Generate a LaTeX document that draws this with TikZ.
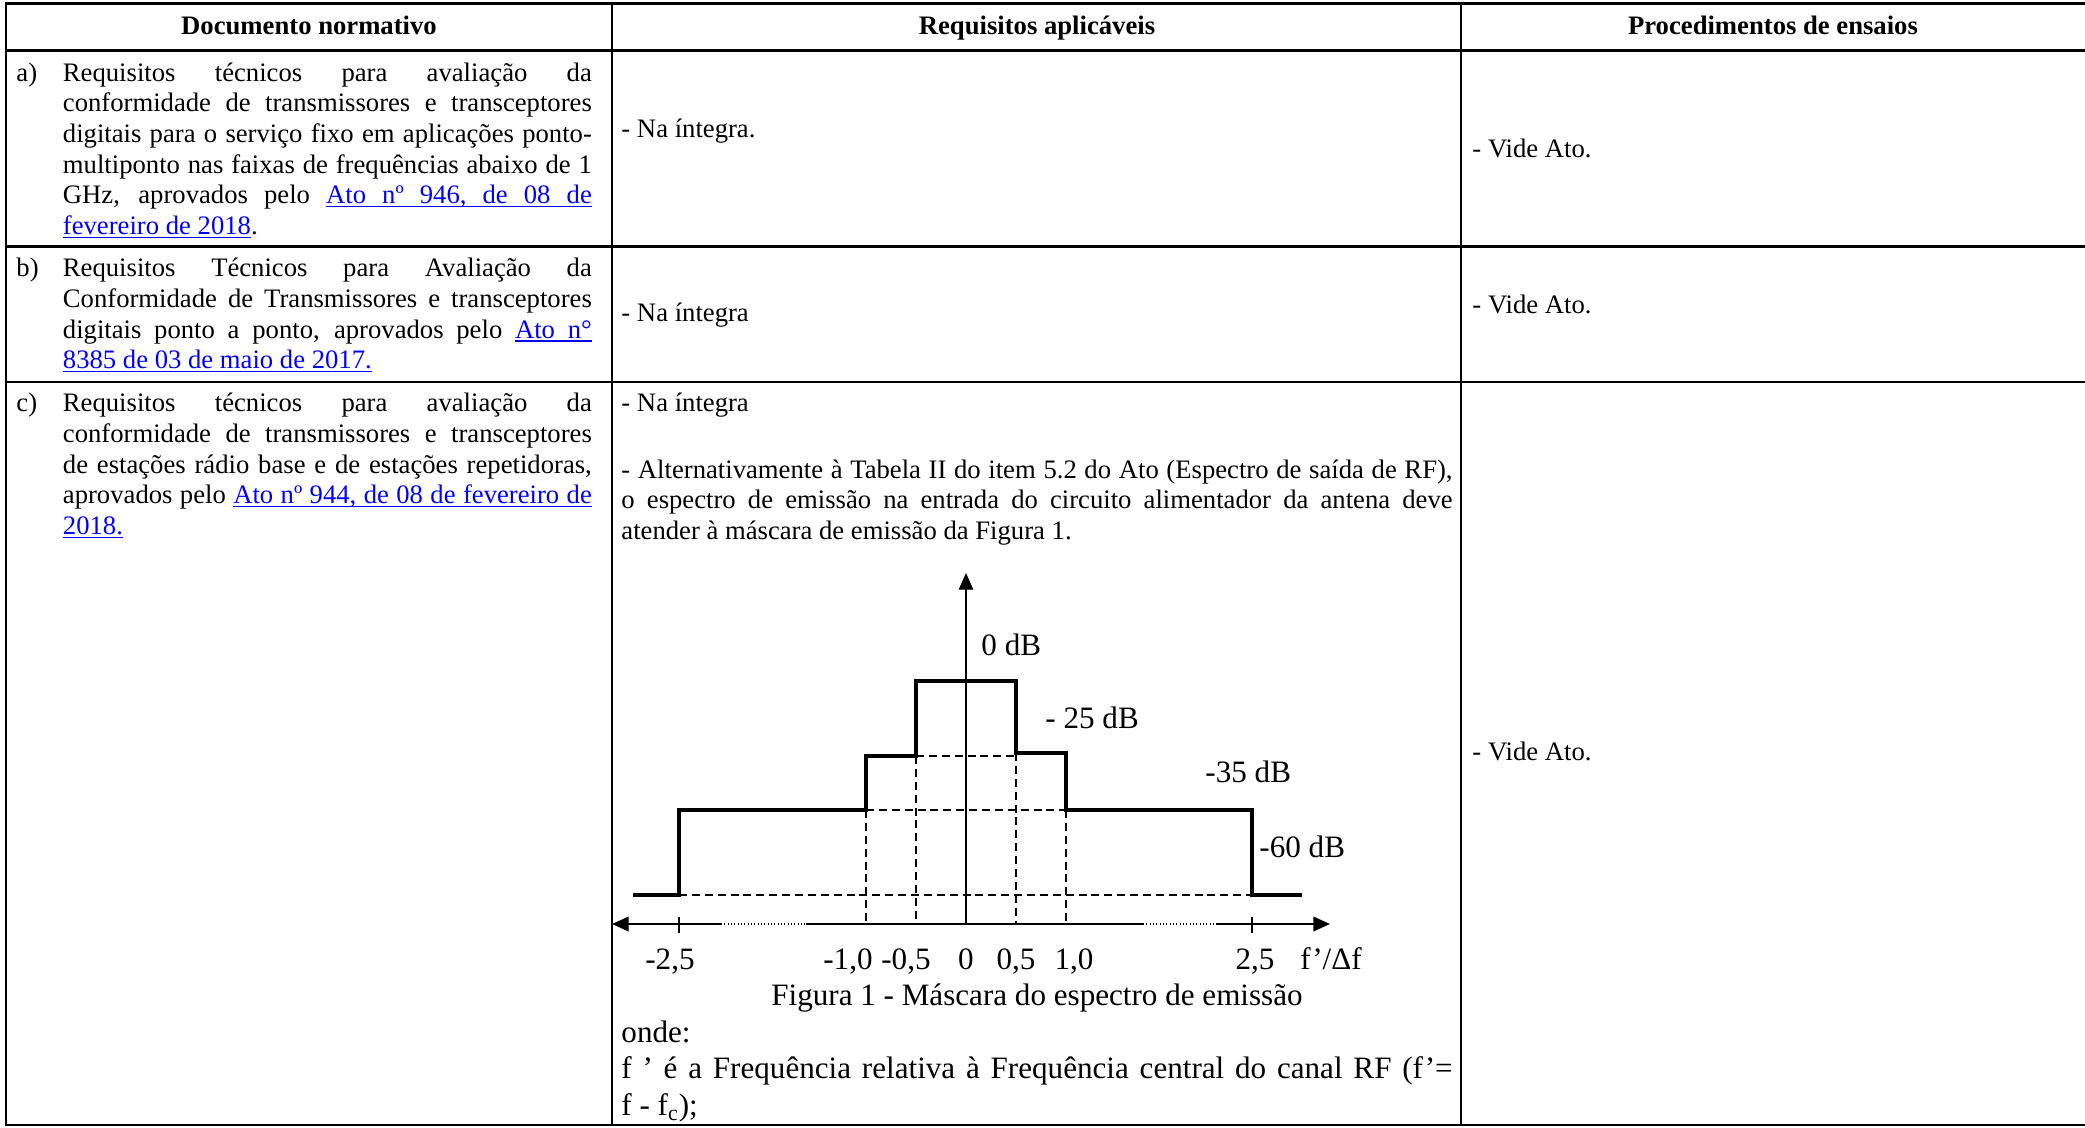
\documentclass[tikz,border=0pt]{standalone}
\usepackage{fontspec}
\setmainfont{Liberation Serif}
\usetikzlibrary{arrows.meta}
\definecolor{linkblue}{RGB}{0,0,255}
% underlined word and underlined stretchable space for the links
\newcommand{\uw}[1]{\setbox0\hbox{#1}\rlap{\rule[-1.7pt]{\wd0}{0.6pt}}\box0}
\newcommand{\us}{\leaders\hrule height -1.1pt depth 1.7pt\hskip\fontdimen2\font plus\fontdimen3\font minus\fontdimen4\font\relax}
\newcommand{\atolink}[1]{\textcolor{linkblue}{#1}}

\begin{document}
\begin{tikzpicture}[x=0.45pt, y=-0.45pt,
    every node/.style={font=\fontsize{12}{13.8}\selectfont},
    tablerule/.style={line width=1.2pt},
    headtext/.style={anchor=base, inner sep=0pt, font=\fontsize{12}{13.8}\selectfont\bfseries},
    plaintext/.style={anchor=base west, inner sep=0pt},
    celltext/.style={anchor=base west, inner sep=0pt, text width=238pt, align=justify},
    widetext/.style={celltext, text width=374pt},
    figtext/.style={anchor=base, inner sep=0pt, font=\fontsize{14}{17}\selectfont},
    mask/.style={line width=2pt, line join=miter},
    guide/.style={line width=0.55pt, dash pattern=on 3.6pt off 2.2pt},
    outeraxis/.style={line width=1pt},
    inneraxis/.style={line width=0.6pt},
    tip/.style={-{Triangle[length=7.5pt, width=6.5pt]}}]

   \useasboundingbox (0,0) rectangle (2085,1128);

   % table
   \draw[tablerule] (2085,3.3) -- (6,3.3) -- (6,1125) -- (2085,1125);
   \draw[tablerule] (6,50.5) -- (2085,50.5);
   \draw[tablerule] (6,246.5) -- (2085,246.5);
   \draw[tablerule] (6,382) -- (2085,382);
   \draw[tablerule] (612,3.3) -- (612,1125);
   \draw[tablerule] (1461,3.3) -- (1461,1125);

   \node[headtext] (h1) at (309,35) {Documento normativo};
   \node[headtext] (h2) at (1037,35) {Requisitos aplicáveis};
   \node[headtext] (h3) at (1773,35) {Procedimentos de ensaios};

   % column 1
   \node[plaintext] (ta) at (16,81) {a)};
   \node[celltext] (da) at (62.5,81) {Requisitos técnicos para avaliação da\linebreak
     conformidade de transmissores e transceptores\linebreak
     digitais para o serviço fixo em aplicações ponto-\linebreak
     multiponto nas faixas de frequências abaixo de 1\linebreak
     GHz, aprovados pelo \atolink{\uw{Ato}\us\uw{nº}\us\uw{946,}\us\uw{de}\us\uw{08}\us\uw{de}}\linebreak
     \atolink{\uw{fevereiro}\us\uw{de}\us\uw{2018}}.};
   \node[plaintext] (tb) at (16,276.7) {b)};
   \node[celltext] (db) at (62.5,276.7) {Requisitos Técnicos para Avaliação da\linebreak
     Conformidade de Transmissores e transceptores\linebreak
     digitais ponto a ponto, aprovados pelo \atolink{\uw{Ato}\us\uw{n°}}\linebreak
     \atolink{\uw{8385}\us\uw{de}\us\uw{03}\us\uw{de}\us\uw{maio}\us\uw{de}\us\uw{2017.}}};
   \node[plaintext] (tc) at (16,411.7) {c)};
   \node[celltext] (dc) at (62.5,411.7) {Requisitos técnicos para avaliação da\linebreak
     conformidade de transmissores e transceptores\linebreak
     de estações rádio base e de estações repetidoras,\linebreak
     aprovados pelo \atolink{\uw{Ato}\us\uw{nº}\us\uw{944,}\us\uw{de}\us\uw{08}\us\uw{de}\us\uw{fevereiro}\us\uw{de}}\linebreak
     \atolink{\uw{2018.}}};

   % column 2
   \node[plaintext] (ra) at (621,137) {- Na íntegra.};
   \node[plaintext] (rb) at (621,321) {- Na íntegra};
   \node[plaintext] (rc) at (621,411.7) {- Na íntegra};
   \node[widetext] (alt) at (621,478) {- Alternativamente à Tabela II do item 5.2 do Ato (Espectro de saída de RF),\linebreak
     o espectro de emissão na entrada do circuito alimentador da antena deve\linebreak
     atender à máscara de emissão da Figura 1.};

   % column 3
   \node[plaintext] (pa) at (1472,157) {- Vide Ato.};
   \node[plaintext] (pb) at (1472,313) {- Vide Ato.};
   \node[plaintext] (pc) at (1472,760) {- Vide Ato.};

   % emission mask
   \coordinate (o) at (966,924);
   \coordinate (ytop) at (966,573);
   \coordinate (xleft) at (612,924);
   \coordinate (xright) at (1330,924);
   \coordinate (gapL1) at (721,924);
   \coordinate (gapL2) at (806,924);
   \coordinate (gapR1) at (1143,924);
   \coordinate (gapR2) at (1216,924);

   \draw[guide] (679,895) -- (1252,895);
   \draw[guide] (866,810) -- (1066,810);
   \draw[guide] (916,756) -- (1016,756);
   \draw[guide] (866,810) -- (866,924);
   \draw[guide] (916,756) -- (916,924);
   \draw[guide] (1016,753) -- (1016,924);
   \draw[guide] (1066,810) -- (1066,924);

   \draw[mask] (633,895) -- (679,895) -- (679,810) -- (866,810) -- (866,756)
     -- (916,756) -- (916,681) -- (1016,681) -- (1016,753) -- (1066,753)
     -- (1066,810) -- (1252,810) -- (1252,895) -- (1302,895);

   \draw[inneraxis, tip] (o) to (ytop);
   \draw[outeraxis, tip] (gapL1) to (xleft);
   \draw[densely dotted, line width=0.5pt] (gapL1) to (gapL2);
   \draw[inneraxis] (gapL2) to (gapR1);
   \draw[densely dotted, line width=0.5pt] (gapR1) to (gapR2);
   \draw[outeraxis, tip] (gapR2) to (xright);
   \draw[inneraxis] (679,917) -- (679,933);
   \draw[inneraxis] (1252,917) -- (1252,933);

   \node[figtext, anchor=base west] (l0) at (981,655) {0 dB};
   \node[figtext, anchor=base west] (l25) at (1045,728) {- 25 dB};
   \node[figtext, anchor=base west] (l35) at (1205,782) {-35 dB};
   \node[figtext, anchor=base west] (l60) at (1259,857) {-60 dB};

   \node[figtext] (m25) at (670,969) {-2,5};
   \node[figtext] (m10) at (848,969) {-1,0};
   \node[figtext] (m05) at (906,969) {-0,5};
   \node[figtext] (z0) at (966,969) {0};
   \node[figtext] (p05) at (1016,969) {0,5};
   \node[figtext] (p10) at (1074,969) {1,0};
   \node[figtext] (p25) at (1255,969) {2,5};
   \node[figtext] (fq) at (1331,969) {f’/Δf};

   \node[figtext] (cap) at (1037,1005) {Figura 1 - Máscara do espectro de emissão};
   \node[figtext, anchor=base west] (onde) at (621,1042) {onde:};
   \node[figtext, anchor=base west, text width=374pt, align=justify] (def) at (621,1078)
     {f ’ é a Frequência relativa à Frequência central do canal RF (f’=\linebreak
      f - f\textsubscript{c});};

 \end{tikzpicture}
\end{document}
